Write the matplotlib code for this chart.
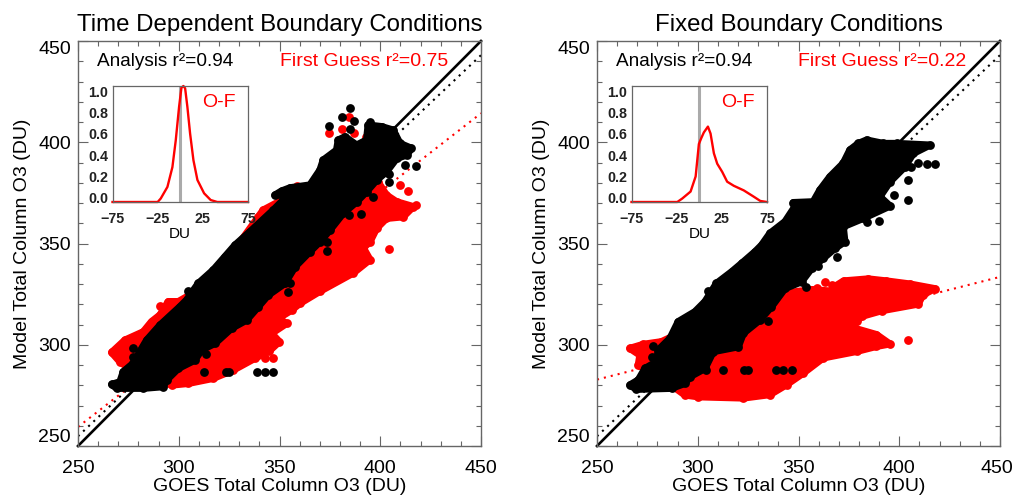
#!/usr/bin/env python3
"""Model vs GOES total column O3, time dependent and fixed boundary conditions."""

import matplotlib
matplotlib.use('Agg')
import matplotlib.pyplot as plt
from matplotlib.ticker import MultipleLocator

plt.rcParams['font.family'] = ['Liberation Sans', 'DejaVu Sans']

# --- left panel, cloud outlines (GOES DU, model DU)
left_first_guess_outline = [
    (266.7, 296.2), (273.3, 302.3), (282.4, 306.4), (286.5, 311.4), (290.7, 314.7),
    (294.8, 321.3), (299.8, 321.3), (315, 330), (331.2, 351.7), (341.9, 366.5), (358, 375),
    (385, 385), (399, 380.2), (403.1, 373.9), (408.1, 370.6), (416.4, 368.2), (411.4, 363.2),
    (403.1, 362.4), (398.2, 357.5), (394.9, 350.9), (391.6, 347.8), (394.9, 342),
    (386.6, 335.4), (370.1, 326.4), (360.1, 320.4), (356, 317.1), (349.4, 313), (353.5, 310.5),
    (346.1, 305.6), (349.9, 301.5), (345, 297), (337.8, 293.3), (327.1, 287.5), (317.1, 283.4),
    (304.7, 280.9), (296.5, 280.1), (280, 285), (270.8, 291.6),
]
left_first_guess_dots = [
    (380.8, 406.3), (374.7, 404.4), (384.6, 412.3), (386.9, 404.7), (392.9, 402.7),
    (409.8, 378.9), (413.9, 376), (417.7, 369), (404.5, 347.3), (339.5, 362.9), (358.5, 378.5),
    (342.8, 293.4), (346.6, 293.4), (290.7, 319.1),
]
left_analysis_outline = [
    (266.7, 280.4), (269.2, 278.5), (282.4, 278.5), (292.3, 279.3), (294, 282.6),
    (299.8, 288.3), (308, 292.4), (311.3, 297.4), (318, 300.7), (326.2, 308.1), (333.7, 312.2),
    (339.5, 318.8), (344.4, 324.5), (352.7, 330.3), (357.7, 338.5), (365.1, 346), (370.1, 350.9),
    (375, 356.6), (381.6, 364.9), (388.3, 370.6), (393.2, 375.6), (398.2, 381.3), (403.1, 385.4),
    (408.1, 392), (413.1, 393.7), (415.5, 397), (409.8, 399.4), (406.4, 406), (400.7, 407.7),
    (394, 408.5), (393.2, 401.1), (388.3, 398.6), (382.5, 402.7), (379.2, 401.1), (378.3, 396.1),
    (371.7, 391.2), (370.1, 386.3), (365.1, 378.9), (355.2, 377.5), (351, 375.9), (347.7, 373.9),
    (354.3, 373.9), (346.9, 366.5), (335.3, 355.8), (327.9, 349.2), (322.9, 343.5),
    (317.1, 336.9), (309.7, 330.3), (303.9, 322.1), (300.6, 318.8), (290.7, 309.7),
    (284.1, 302.3), (280.7, 296.6), (277.4, 290.8), (272.5, 286.7), (270.8, 281.7),
]
left_analysis_dots = [
    (384.9, 416.7), (380.8, 412.6), (386.9, 410.5), (374.7, 408.2), (384.9, 406.3),
    (412.2, 389), (417.7, 388.1), (404.5, 384.1), (404.5, 380.2), (396.5, 373.1), (390.2, 364.4),
    (384.6, 364), (373.4, 350.5), (373.4, 346.3), (394.9, 410.1), (304.7, 326.7), (277.4, 298.2),
    (277.1, 293.8), (312.7, 286.7), (323.4, 286.7), (325.1, 286.7), (339, 286.7), (342.8, 286.7),
    (346.6, 286.7), (355.2, 330.3), (354.3, 326.2), (313.5, 295.4),
]

# --- right panel
right_first_guess_outline = [
    (266.3, 298.2), (273, 300.2), (282, 301.5), (300, 310), (321, 320), (344.1, 325.6),
    (356.5, 327.2), (366, 326.5), (368.1, 328.8), (372.4, 331.5), (384.6, 332.5), (393.6, 331.5),
    (405.2, 330), (417.6, 327.7), (411.8, 324.7), (409.4, 320.1), (391.2, 316.8),
    (381.3, 314), (378.8, 311.6), (377.2, 308.3), (388.7, 305), (395.3, 300.4), (388.7, 299.2),
    (378.8, 296.7), (362.3, 293.5), (352.4, 286), (344.1, 280.3), (335.9, 275.4),
    (322.7, 273.7), (300.3, 274.3), (293.6, 275.2), (280, 285), (270.5, 290), (271.3, 294.9),
]
right_first_guess_dots = [
    (404.4, 302.3), (363.1, 331), (359.3, 328), (366.5, 329.5),
]
right_analysis_outline = [
    (266.3, 280.1), (269.6, 278), (287, 278.5), (293.6, 280.9), (296.1, 284.2), (303.6, 288.3),
    (307.7, 296.6), (320.1, 299), (322.6, 305.6), (330.8, 312.2), (336.6, 318.8), (343.3, 327.8),
    (351.5, 331.1), (356.5, 337.7), (362.3, 342.7), (368.1, 347.6), (373, 350.9), (372.2, 358.3),
    (382.1, 362.4), (395.4, 368.5), (390.4, 373.1), (395.4, 380.5), (402.8, 387.9), (407, 394.5),
    (415.2, 398.6), (398.7, 399.4), (392.1, 399.4), (383.8, 401.1), (379.7, 399.4), (375.5, 396.2),
    (372.2, 389.6), (365.6, 383), (360.6, 376.4), (357.3, 370.6), (347.4, 370.2), (348.2, 368.2),
    (343.3, 360.8), (335.8, 355), (331.7, 349.2), (328.4, 345.9), (321.8, 340.2), (316.8, 336),
    (309.3, 330.3), (303.6, 321.3), (298.6, 316.3), (290.3, 311.4), (286.2, 303.1), (280.4, 297.4),
    (279.6, 291.6), (273.8, 288.3), (270.5, 282.6),
]
right_analysis_dots = [
    (383.8, 360.4), (390.1, 361.1), (397.4, 373.9), (404.5, 371.5), (404.1, 381.3), (405.6, 387.9),
    (409.4, 389.6), (413.6, 389.1), (417.9, 389.2), (369.2, 343.2), (359.8, 339), (304.9, 326.5),
    (277.6, 299.4), (277.1, 293.8), (312.7, 287.5), (323.1, 287.5), (325.1, 287.5), (338.8, 287.5),
    (342.4, 287.5), (346.6, 287.5), (303.9, 287.5), (353.7, 328.7), (334.7, 311.7),
]

# --- fit lines, value at x=250 and x=450
line_x = [250, 450]
one_to_one = [250, 450]
left_analysis_fit = [254.8, 443]
left_first_guess_fit = [259.4, 414.3]
right_analysis_fit = [254.8, 443]
right_first_guess_fit = [282.8, 333.5]

# --- O-F histograms
left_hist_x = [-75, -25, -21.6, -14.2, -8.7, -5, -1.3, 1.3, 3.5, 5.4, 7.9, 10.9, 14.6, 19, 26.4, 33.7, 41, 75]
left_hist_y = [0, 0, .03, .13, .30, .53, .82, .985, 1.0, .98, .82, .59, .36, .19, .075, .017, 0, 0]
right_hist_x = [-75, -24.3, -18.8, -9.6, -4, -0.4, 2.2, 5.1, 9.6, 12.5, 16.2, 19.9, 25.4, 30.9, 38.2, 49.3, 60.3, 67.6, 75]
right_hist_y = [0, 0, .03, .09, .22, .5, .55, .60, .65, .59, .42, .33, .26, .175, .14, .10, .046, .009, 0]

main_ticks = [250, 300, 350, 400, 450]
main_ticklabels = ['250', '300', '350', '400', '450']
inset_xticks = [-75, -25, 25, 75]
inset_ylabels = ['0.0', '0.2', '0.4', '0.6', '0.8', '1.0']

SPINE = '#666666'
W, H = 1014.0, 495.0


def draw_cloud(ax, outline, dots, color, z):
    """Filled outline with a thick round edge, plus the loose dots around it."""
    ax.fill([p[0] for p in outline], [p[1] for p in outline], facecolor=color,
            edgecolor=color, linewidth=5.2, joinstyle='round', zorder=z)
    ax.scatter([p[0] for p in outline], [p[1] for p in outline], s=40, color=color,
               linewidths=0, zorder=z)
    ax.scatter([p[0] for p in dots], [p[1] for p in dots], s=40, color=color,
               linewidths=0, zorder=z)


def draw_panel(fig, left_px, title, fg_label, fg_outline, fg_dots, an_outline, an_dots,
               an_fit, fg_fit, hist_x, hist_y, last_label_shift=0):
    ax = fig.add_axes([left_px / W, 1 - 446 / H, 403 / W, 405 / H])
    ax.set_xlim(250, 450)
    ax.set_ylim(250, 450)

    ax.plot(line_x, one_to_one, color='black', lw=1.9, zorder=2, clip_on=False)
    ax.plot(line_x, an_fit, color='black', lw=1.5, ls=(0, (1, 2.4)), zorder=2)
    ax.plot(line_x, fg_fit, color='red', lw=1.5, ls=(0, (1, 2.4)), zorder=2)

    draw_cloud(ax, fg_outline, fg_dots, 'red', 3)
    draw_cloud(ax, an_outline, an_dots, 'black', 4)

    ax.set_xticks(main_ticks)
    ax.set_yticks(main_ticks)
    ax.xaxis.set_minor_locator(MultipleLocator(10))
    ax.yaxis.set_minor_locator(MultipleLocator(10))
    ax.tick_params(which='major', direction='in', length=7, width=0.8, color=SPINE,
                   top=True, right=True, labelsize=14, pad=5)
    ax.tick_params(which='minor', direction='in', length=3.5, width=0.8, color=SPINE,
                   top=True, right=True)
    ax.tick_params(axis='x', which='major', pad=10)
    labels = ax.get_yticklabels()
    labels[0].set_verticalalignment('bottom')
    labels[-1].set_verticalalignment('top')

    # the last x label runs into the figure edge on the right panel, nudge it in
    ax.set_xticklabels(main_ticklabels[:-1] + [''])
    ax.annotate(main_ticklabels[-1], xy=(1, 0), xycoords='axes fraction',
                xytext=(last_label_shift, -10), textcoords='offset points',
                ha='center', va='top', fontsize=14)

    for spine in ax.spines.values():
        spine.set_color(SPINE)
        spine.set_linewidth(1.0)

    ax.set_title(title, fontsize=17.3, pad=7)
    ax.set_xlabel('GOES Total Column O3 (DU)', fontsize=14, labelpad=1)
    ax.set_ylabel('Model Total Column O3 (DU)', fontsize=14, labelpad=5)

    ax.text(0.047, 0.95, 'Analysis r²=0.94', transform=ax.transAxes, fontsize=13.7,
            va='center', zorder=6)
    ax.text(0.5, 0.95, fg_label, transform=ax.transAxes, fontsize=14, color='red',
            va='center', zorder=6)

    inset = fig.add_axes([(left_px + 34.5) / W, 1 - 202 / H, 135.5 / W, 116 / H], zorder=5)
    inset.set_xlim(-75, 75)
    inset.set_ylim(0, 1)
    inset.axvline(0, color='#aaaaaa', lw=2.2, zorder=1)
    inset.plot(hist_x, hist_y, color='red', lw=1.7, zorder=2, clip_on=False)
    inset.set_xticks(inset_xticks)
    # the printed labels sit a little inside the frame ends
    inset.set_yticks([0.035 + 0.92 * float(v) for v in inset_ylabels])
    inset.set_yticklabels(inset_ylabels)
    inset.tick_params(length=0, labelsize=10.3, pad=3)
    inset.tick_params(axis='x', pad=7)
    for label in inset.get_xticklabels() + inset.get_yticklabels():
        label.set_fontweight('bold')
        label.set_color('#222222')
    inset.set_xlabel('DU', fontsize=11, labelpad=1)
    for spine in inset.spines.values():
        spine.set_color(SPINE)
        spine.set_linewidth(0.9)
    inset.text(0.665, 0.855, 'O-F', transform=inset.transAxes, fontsize=14, color='red',
               va='center')
    return ax


def main():
    fig = plt.figure(figsize=(10.14, 4.95), dpi=100)
    draw_panel(fig, 78, 'Time Dependent Boundary Conditions', 'First Guess r²=0.75',
               left_first_guess_outline, left_first_guess_dots,
               left_analysis_outline, left_analysis_dots,
               left_analysis_fit, left_first_guess_fit, left_hist_x, left_hist_y)
    draw_panel(fig, 597, 'Fixed Boundary Conditions', 'First Guess r²=0.22',
               right_first_guess_outline, right_first_guess_dots,
               right_analysis_outline, right_analysis_dots,
               right_analysis_fit, right_first_guess_fit, right_hist_x, right_hist_y,
               last_label_shift=-2.4)
    fig.savefig('out.png', dpi=100)


if __name__ == '__main__':
    main()
